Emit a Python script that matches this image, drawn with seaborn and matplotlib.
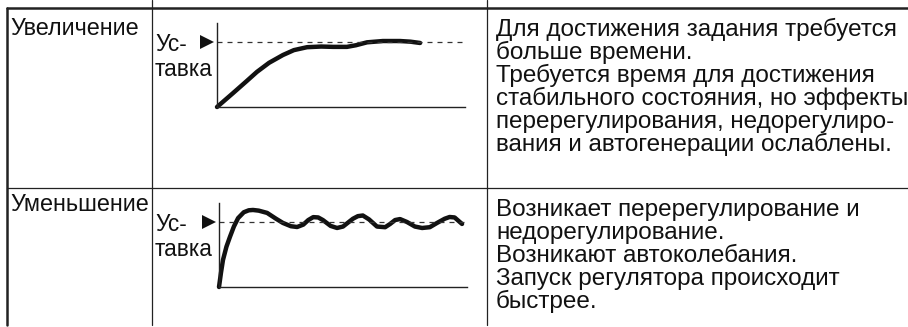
import matplotlib
matplotlib.use("Agg")
import matplotlib.pyplot as plt
import seaborn as sns
import pandas as pd

sns.set_theme(style="white")
plt.rcParams['font.family'] = ['Liberation Sans', 'DejaVu Sans']

# ---- data ----
row_labels = ["Увеличение", "Уменьшение"]
axis_label_lines = ["Ус-", "тавка"]
row_texts = [
    ["Для достижения задания требуется", "больше времени.",
     "Требуется время для достижения", "стабильного состояния, но эффекты",
     "перерегулирования, недорегулиро-", "вания и автогенерации ослаблены."],
    ["Возникает перерегулирование и", "недорегулирование.",
     "Возникают автоколебания.", "Запуск регулятора происходит", "быстрее."],
]
setpoint = 1.0
inc_t = [0.0, 0.65, 1.2, 1.61, 2.1, 2.66, 3.1, 3.63, 4.2, 4.68, 5.24, 5.6,
         6.05, 6.69, 7.38, 7.8, 8.19]
inc_y = [0.0, 0.215, 0.40, 0.54, 0.68, 0.80, 0.875, 0.92, 0.93, 0.925, 0.925,
         0.95, 0.995, 1.015, 1.015, 1.005, 0.985]
dec_t = [0.0, 0.08, 0.16, 0.30, 0.44, 0.60, 0.77, 1.0, 1.2, 1.37, 1.6, 1.94,
         2.3, 2.58, 2.9, 3.15, 3.4, 3.6, 3.8, 4.0, 4.19, 4.5, 4.76, 5.0, 5.2,
         5.4, 5.6, 5.8, 6.05, 6.37, 6.7, 6.9, 7.1, 7.3, 7.58, 7.9, 8.19, 8.5,
         8.79, 9.1, 9.3, 9.5, 9.65, 9.80]
dec_y = [0.0, 0.22, 0.415, 0.62, 0.77, 0.93, 1.06, 1.15, 1.18, 1.185, 1.175,
         1.14, 1.05, 0.985, 0.935, 0.923, 0.96, 1.03, 1.075, 1.07, 1.03, 0.94,
         0.908, 0.93, 0.99, 1.05, 1.09, 1.10, 1.04, 0.93, 0.92, 0.97, 1.03,
         1.045, 1.0, 0.93, 0.908, 0.92, 0.985, 1.05, 1.077, 1.07, 1.02, 0.97]

W, H = 908, 327
fig = plt.figure(figsize=(W / 100, H / 100), dpi=100)

# background axes in pixel coordinates for the table
bg = fig.add_axes([0, 0, 1, 1])
bg.set_xlim(0, W)
bg.set_ylim(H, 0)
bg.axis("off")
lc = "#222222"
bg.plot([7, W], [8, 8], color=lc, lw=1.8)
bg.plot([7, W], [188, 188], color=lc, lw=0.9)
bg.plot([7, 7], [8, 325], color=lc, lw=1.8)
bg.plot([152, 152], [0, 325], color=lc, lw=0.9)
bg.plot([487, 487], [0, 325], color=lc, lw=0.9)

tc = "#111111"
row_tops = [8, 188]
label_base = [35, 211]
for i, top in enumerate(row_tops):
    bg.text(10, label_base[i], row_labels[i], fontsize=16.8, va="baseline",
            ha="left", color=tc)
    for k, s in enumerate(axis_label_lines):
        bg.text(155, top + 43 + k * 25, s, fontsize=16.3, va="baseline",
                ha="left", color=tc)
    for j, line in enumerate(row_texts[i]):
        bg.text(496, top + 28 + j * 23, line, fontsize=17.5, va="baseline",
                ha="left", color=tc)

charts = [
    (217, 465, 23, 107, inc_t, inc_y),
    (219, 467, 203, 287, dec_t, dec_y),
]
for (x0, x1, yt, yb, t, y) in charts:
    ax = fig.add_axes([x0 / W, (H - yb) / H, (x1 - x0) / W, (yb - yt) / H])
    df = pd.DataFrame({"t": t, "y": y})
    sns.lineplot(data=df, x="t", y="y", ax=ax, color="#111111", lw=3.2,
                 clip_on=False, sort=False)
    ax.set_xlim(0, 10)
    ax.set_ylim(0, (yb - yt) / 65.0)
    ax.axhline(setpoint, color="#333333", lw=0.9, ls=(0, (4, 4)))
    ax.plot([-0.42], [setpoint], marker=">", ms=9.5, color="#111111",
            clip_on=False, mew=0)
    for s in ["top", "right"]:
        ax.spines[s].set_visible(False)
    for s in ["left", "bottom"]:
        ax.spines[s].set_color("#222222")
        ax.spines[s].set_linewidth(1.0)
    ax.set_xticks([])
    ax.set_yticks([])
    ax.set_xlabel("")
    ax.set_ylabel("")
    ax.patch.set_alpha(0)

fig.savefig("out.png", dpi=100)
